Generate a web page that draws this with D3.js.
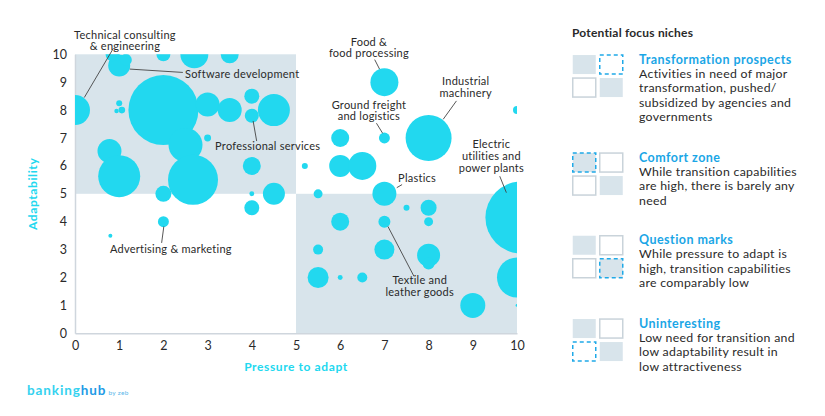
<!DOCTYPE html>
<html><head><meta charset="utf-8">
<script src="https://cdn.jsdelivr.net/npm/d3@7"></script>
<style>
body{margin:0;background:#fff;}
svg{font-family:Lato, "Noto Sans", sans-serif;}
</style></head>
<body><svg id="c" width="825" height="416"></svg>
<script>
// ---- data ----
const bubbleX = [0,1.0,0.85,1.15,2.0,2.7,3.5,2.0,1.0,0.94,1.06,3.0,3.5,4.0,4.0,4.5,2.5,2.67,0.78,1.0,3.0,4.0,5.2,2.0,4.0,4.5,4.0,2.0,0.8,7.0,10,7.0,8.0,6.0,6.0,6.5,7.0,5.5,10.1,10,10,9.0,8.0,7.5,8.0,7.0,6.0,5.5,7.0,8.0,8.0,5.5,6.0,6.5];
const bubbleY = [8,9.6,10,9.8,10,10,10,8.0,8.25,7.97,8.0,8.2,8.0,8.5,7.8,8.0,6.75,5.5,6.53,5.63,7.0,6.0,6.0,5.0,5.0,5.0,4.5,4.0,3.5,9.0,8.0,7.0,7.0,7.0,6.0,6.0,5.0,5.0,4.15,2.0,1.0,1.0,4.5,4.5,4.0,4.0,4.0,3.0,3.0,2.8,2.5,2.0,2.0,2.0];
const bubbleSize = [22.5,12.1,4.9,3.6,4.9,19.6,8.1,122.5,0.9,0.5,1.1,14.4,14.4,5.6,4.9,25.6,28.9,62.5,14.4,44.1,1.2,8.1,0.9,6.4,0.6,12.1,5.6,3.0,0.4,19.6,1.6,3.0,52.9,8.1,12.1,19.6,14.4,2.0,129.6,40,0.2,15.6,6.4,0.9,2.0,3.6,8.1,2.5,10,13.2,3.6,11,0.6,2.5];
const xTicks = [0,1,2,3,4,5,6,7,8,9,10];
const yTicks = [0,1,2,3,4,5,6,7,8,9,10];
const xTitle = "Pressure to adapt";
const yTitle = "Adaptability";
// annotations: text lines, anchor, text position (data units), leader line (data units)
const annLines = [["Technical consulting","& engineering"],["Software development"],["Professional services"],["Food &","food processing"],["Industrial","machinery"],["Ground freight","and logistics"],["Electric","utilities and","power plants"],["Plastics"],["Textile and","leather goods"],["Advertising & marketing"]];
const annAnchor = ["middle","start","start","middle","middle","middle","middle","start","middle","start"];
const annTx = [1.13,2.49,3.17,6.65,8.84,6.65,9.42,7.31,7.80,0.79];
const annTy = [10.70,9.29,6.71,10.45,9.04,8.19,6.78,5.55,1.89,3.0];
const annLine = [[0.87,10.22,0.21,8.45],[1.24,9.47,2.44,9.35],[4.03,7.61,4.11,6.89],[6.78,9.81,6.89,9.47],[8.63,8.33,8.33,7.67],[6.82,7.53,6.96,7.17],[9.61,5.63,9.76,5.04],[7.28,5.22,7.40,5.33],[7.08,3.83,7.67,2.04],[2.01,3.83,1.96,3.24]];
const legendTitle = "Potential focus niches";
const legendHeads = ["Transformation prospects","Comfort zone","Question marks","Uninteresting"];
const legendBodies = [["Activities in need of major","transformation, pushed/","subsidized by agencies and","governments"],["While transition capabilities","are high, there is barely any","need"],["While pressure to adapt is","high, transition capabilities","are comparably low"],["Low need for transition and","low adaptability result in","low attractiveness"]];
const legendHighlight = [1,0,3,2]; // quadrant index: 0 TL,1 TR,2 BL,3 BR

// ---- chart ----
const svg = d3.select("#c");
const m = {l:75, r:308, t:54.3, b:82.7};
const W = 825, H = 416;
const x = d3.scaleLinear().domain([0,10]).range([m.l, W-m.r]);
const y = d3.scaleLinear().domain([0,10]).range([H-m.b, m.t]);
const rS = d3.scaleSqrt().domain([0,129.6]).range([0,36]);
const cyan = "#22d8ef", shade = "#d8e4eb", txt = "#2a2a2a", head = "#1aa6e6";

svg.append("defs").append("clipPath").attr("id","pc").append("rect")
  .attr("x",x(0)).attr("y",y(10)).attr("width",x(10)-x(0)).attr("height",y(0)-y(10));

svg.append("rect").attr("x",x(0)).attr("y",y(10)).attr("width",x(5)-x(0)).attr("height",y(5)-y(10)).attr("fill",shade);
svg.append("rect").attr("x",x(5)).attr("y",y(5)).attr("width",x(10)-x(5)).attr("height",y(0)-y(5)).attr("fill",shade);

// axes
const xa = svg.append("g").attr("transform",`translate(0,${y(0)})`).call(d3.axisBottom(x).tickValues(xTicks).tickSize(0).tickPadding(8));
const ya = svg.append("g").attr("transform",`translate(${x(0)},0)`).call(d3.axisLeft(y).tickValues(yTicks).tickSize(0).tickPadding(8));
[xa,ya].forEach(a=>{a.select(".domain").attr("stroke","#cfd6dd").attr("stroke-width",1.5);
  a.selectAll("text").attr("font-size",12.5).attr("fill",txt).attr("font-family","Lato, sans-serif");});

// bubbles
const idx = d3.range(bubbleX.length);
svg.append("g").attr("clip-path","url(#pc)").selectAll("circle").data(idx).join("circle")
  .attr("cx",i=>x(bubbleX[i])).attr("cy",i=>y(bubbleY[i])).attr("r",i=>rS(bubbleSize[i])).attr("fill",cyan);

// annotations
const ag = svg.append("g");
annLines.forEach((lines,i)=>{
  const l = annLine[i];
  ag.append("line").attr("x1",x(l[0])).attr("y1",y(l[1])).attr("x2",x(l[2])).attr("y2",y(l[3])).attr("stroke","#444").attr("stroke-width",0.9);
  const t = ag.append("text").attr("text-anchor",annAnchor[i]).attr("font-size",11).attr("fill",txt).attr("letter-spacing",0.25);
  lines.forEach((s,j)=>t.append("tspan").attr("x",x(annTx[i])).attr("y",y(annTy[i])+j*11.8).attr("dy","0.35em").text(s));
});

// axis titles
svg.append("text").attr("x",x(5)).attr("y",367).attr("dy","0.35em").attr("text-anchor","middle").attr("font-size",12).attr("font-weight","bold").attr("fill",cyan).attr("letter-spacing",0.6).text(xTitle);
svg.append("text").attr("transform",`translate(33,${y(5)}) rotate(-90)`).attr("dy","0.35em").attr("text-anchor","middle").attr("font-size",12).attr("font-weight","bold").attr("fill",cyan).attr("letter-spacing",0.6).text(yTitle);

// legend
const lg = svg.append("g");
lg.append("text").attr("x",572).attr("y",33).attr("dy","0.35em").attr("font-size",12).attr("font-weight","bold").attr("fill",txt).attr("letter-spacing",0.2).text(legendTitle);
const groupTop = [54.3,152.3,235,318.3];
const sq = {w:24.5, h:20.5, g:2.5};
legendHeads.forEach((h,i)=>{
  const g = lg.append("g").attr("transform",`translate(572,${groupTop[i]})`);
  [0,1,2,3].forEach(q=>{
    const cx = (q%2)*(sq.w+sq.g), cy = Math.floor(q/2)*(sq.h+sq.g);
    const filled = (q===0||q===3);
    const hl = legendHighlight[i]===q;
    const r = g.append("rect").attr("x",cx+0.75).attr("y",cy+0.75).attr("width",sq.w-1.5).attr("height",sq.h-1.5)
      .attr("fill",filled?shade:"#fff");
    if(hl) r.attr("stroke","#1fa9e8").attr("stroke-width",1.5).attr("stroke-dasharray","4,3");
    else if(!filled) r.attr("stroke","#c9d3da").attr("stroke-width",1.5);
  });
  lg.append("text").attr("x",639).attr("y",groupTop[i]+5).attr("dy","0.35em").attr("font-size",12.5).attr("font-weight","bold").attr("fill",head).attr("letter-spacing",0.45).text(h);
  const t = lg.append("text").attr("font-size",12.3).attr("fill",txt).attr("letter-spacing",0.3);
  legendBodies[i].forEach((s,j)=>t.append("tspan").attr("x",639).attr("y",groupTop[i]+19+j*14.5).attr("dy","0.35em").text(s));
});

// logo
const logo = svg.append("text").attr("x",27).attr("y",390).attr("dy","0.35em").attr("font-size",13.5).attr("font-weight","bold").attr("letter-spacing",0.9);
logo.append("tspan").attr("fill","#35d2ef").text("banking");
logo.append("tspan").attr("fill","#1e9be6").text("hub");
logo.append("tspan").attr("fill","#5ab8ea").attr("font-size",6.5).attr("font-weight","normal").attr("dx",2).attr("letter-spacing",0.3).text("by zeb");
</script></body></html>
